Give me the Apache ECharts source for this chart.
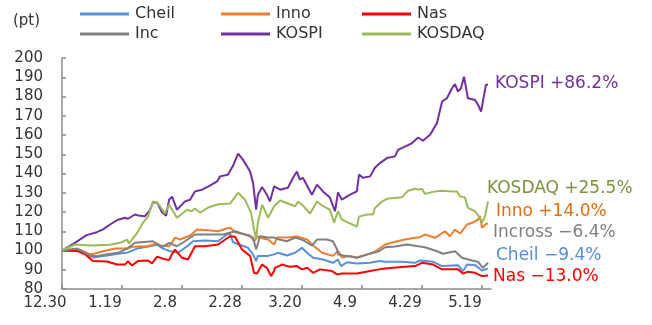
<!DOCTYPE html>
<html>
<head>
<meta charset="utf-8">
<script src="https://cdn.jsdelivr.net/npm/echarts@6/dist/echarts.min.js"></script>
<style>html,body{margin:0;padding:0;background:#fff}#c{width:652px;height:325px}</style>
</head>
<body>
<div id="c"></div>
<script>
// x: days since 12.30, tick every 20 days
const xTickDays = [0, 20, 40, 60, 80, 100, 120, 140];
const xTickLabels = ['12.30', '1.19', '2.8', '2.28', '3.20', '4.9', '4.29', '5.19'];
const seriesNames = ['Cheil', 'Inno', 'Nas', 'Inc', 'KOSPI', 'KOSDAQ'];
const endLabels = ['Cheil \u22129.4%', 'Inno +14.0%', 'Nas \u221213.0%', 'Incross \u22126.4%', 'KOSPI +86.2%', 'KOSDAQ +25.5%'];

const kospiDays = [0,4.3,8.2,11.6,13.7,16,18.7,21,22,24.3,26,27.7,29.3,30.3,31.7,33.3,34.7,35.7,36.7,38.3,41,42.7,44.3,46.7,49.3,51.7,52.7,55.3,57,58.7,60.3,62.7,63.7,64.7,65.3,66.7,68.3,69.3,70.7,72.7,75.3,77,78.3,79.3,80.3,83.3,85,87,89.3,91,92,93.3,96,98.3,99,100.3,102.7,104.3,106,108.3,111,112,114.3,116.7,118.7,120.3,122.7,125,126.7,128.3,130,131,132,133,134,135.3,137.7,138.7,139.7,140.3,141.3,142];
const kospiVals = [100,104,108,109.5,111,113.5,116,117,116.5,118.7,118,117.8,121,125,125,120,118,126.4,128,121.2,125.5,126.4,130.7,131.6,133.7,135.9,138.5,139.4,144,150.3,147.2,141,135,121.2,129,133,129,125.5,133.3,131.6,132.6,137.8,141,136.8,137.8,129,134.2,130.7,127.5,120.4,130.2,126.4,129,130.7,139.4,137.8,138.5,143,145.4,148,148.9,152.3,154,155.8,158.7,157,160.1,166.2,177.4,179.1,184.3,186.4,182.5,184.3,190.3,179.1,178.2,175.6,172.2,171.3,186,186.2];

const kosdaqDays = [0,4.3,9.3,16,20,21.7,22.3,25,27,28.7,30.3,31.7,32.7,34.3,35.7,36,38.3,41.7,43.3,44.3,46,48.7,52,56,57,58.7,61,63,64,64.7,65.3,66.7,68.7,70.7,72.7,77.7,78.7,80,82.7,85,87,89.3,90.7,92,93.3,98.3,99,101.7,103.7,104.3,106.7,108.7,113.3,115.3,117.7,118.7,120,121,124.3,126.7,130,131.7,132.7,134.3,135.3,137.7,139.3,140,141,142];
const kosdaqVals = [100,103.1,102.6,103,104.3,105.7,103.6,109,114.5,117.6,125.5,125,123,119.2,123.8,124.5,117,121.2,120.4,121.8,119.7,122.3,124,124.4,126.4,130,126.4,119.7,111,106,114.5,123.8,117,123,126,123,125.5,123.8,119.2,125.5,123,121.2,114.5,120.4,116,112.4,117.6,118.7,118.7,122.1,125.5,127,127.6,131,132.1,131.6,132.1,129.4,130.7,131,130.7,130.7,128.1,127.6,122.1,120.4,116.9,114.4,117.8,125.5];

const innoDays = [0,6,9.3,11,13.7,17.7,21.7,23.7,28.3,31.7,32.7,35.7,36.7,37.7,39.3,42.7,45,48.7,52,54.3,56,57.7,62.7,64,65.3,67,68.7,70.7,71.7,76,78.3,81.7,83.3,86.7,90.3,92,93.3,96,98.3,101.7,103.7,105.7,107.7,111,114.3,117.7,119.3,121,124.3,127.7,129.3,131,132.7,135,136.7,138.7,139.3,140,141.3,142];
const innoVals = [100,100.5,98,98.4,99.6,101,101,102,102.2,103.6,102.6,102.2,104.3,106.7,105.7,107.8,110.9,110.5,110,111.2,111.9,109.5,107.8,104.8,107.3,106.2,105.7,103.1,106.7,106.9,107.3,105.7,103.1,98.8,97.2,99.8,96.4,97.2,96.4,98,98.8,100.9,103.1,104.5,105.7,106.6,106.9,108.3,106.6,110,107.4,110.9,108.7,113.5,114.4,116.1,118,111.8,113.8,114];

const incDays = [0,5,9.3,11.7,15,18.7,21.7,24.3,30.3,32,33.7,35.7,38.3,41,44.3,48.7,53.7,57.7,62,63.7,64.7,66,68.7,70.7,71.7,75,77.7,80.3,83.3,85,88.3,90.3,91.7,92,93.7,98.3,102.7,105.7,107.7,111,115,118.7,121,125,127,131,133.3,136.7,138.7,140.3,142];
const incVals = [100,101,97.4,97,98,98.8,101,104,104.8,103,102,104,102.2,104.8,108.3,108.3,108.3,110,107.8,106.7,100.5,107.4,106.7,106.7,106,104.8,106.7,105.4,102.6,105.7,105.7,104.8,100.5,98,97.4,96.2,98.4,99.6,101.7,102.1,103.1,102.2,101.7,99.6,98.3,99.6,96.2,94.8,94.1,91,93.6];

const cheilDays = [0,6,10.3,15,19.3,22,25,29.3,31.7,33.7,35.7,38.7,41.7,43.7,47.7,52,55,56,57,62,63.7,64.7,65.3,68.7,70.7,72,75,77.7,80,81.7,83.7,87,90.3,92,93,95,98.3,102.7,105.7,107.7,113.3,117.7,119.3,123.7,126.7,132,133.7,135,137.7,140,142];
const cheilVals = [100,99.7,96.4,97.4,98.4,99,101,102.2,103,101,99.8,98.8,102.2,104.8,105.2,104.8,108.3,108.8,104.3,101.4,98,94.5,97.2,97.2,98,98.8,97.4,98.8,101.4,98.8,96.2,95.3,93.6,95.3,91.9,93.9,93.3,93.6,94.5,94.1,94.1,93.6,94.8,94.1,91.9,92.4,89.3,92.7,92.4,89.6,90.6];

const nasDays = [0,5,7.7,10.3,15,18.3,21,22,23.3,25.3,28.7,30,31.7,33.7,35.7,36.7,37.7,40,42,44.3,47.7,52,56,57.7,60,62.7,64,65,66.7,68.3,69.7,70.7,71,73.3,76,78.3,80,81.7,83.7,86,90,91.7,93.3,98.3,102.7,105.7,107.7,113.3,117.7,120,123.7,126.7,132,133.7,135.3,137.7,140,142];
const nasVals = [100,99.8,98,94.5,94.3,92.7,92.7,94.5,92.2,94.5,94.8,93.3,96.8,95.7,95,98.4,100.5,96.2,95.3,102.2,102.2,103.1,107.4,107.1,100.5,97.2,88.4,88,92.7,91,86.7,89.3,91,92.7,91.5,91.9,90.2,91,88.4,90.2,89.3,87.6,88,88,89.3,90.2,90.7,91.4,91.9,93.6,92.7,90.2,90.2,88,89,88.4,86.7,87];

const pairs = (d, v) => d.map((x, i) => [x, v[i]]);
const seriesData = [pairs(cheilDays, cheilVals), pairs(innoDays, innoVals), pairs(nasDays, nasVals), pairs(incDays, incVals), pairs(kospiDays, kospiVals), pairs(kosdaqDays, kosdaqVals)];

const colors = ['#5591DB', '#ED7D31', '#FF0000', '#808080', '#7030A0', '#9BBB59'];
const labelColors = ['#558ED5', '#E46C0A', '#FF0000', '#7F7F7F', '#7030A0', '#77933C'];
const FONT = '"DejaVu Sans", sans-serif';

const legendPos = [[80, 6], [221, 6], [362, 6], [80, 26], [221, 26], [362, 26]];
const labelPos = [[496, 256], [496, 212], [493, 277], [493, 233], [495, 84], [487, 189]];

const chart = echarts.init(document.getElementById('c'), null, {renderer: 'canvas'});
chart.setOption({
  animation: false,
  backgroundColor: '#fff',
  color: colors,
  grid: {left: 62, right: 161, top: 58, bottom: 36},
  legend: seriesNames.map((n, i) => ({
    data: [n], left: legendPos[i][0], top: legendPos[i][1], icon: 'rect',
    itemWidth: 49, itemHeight: 3, itemGap: 0, padding: 0,
    textStyle: {fontFamily: FONT, fontSize: 16, color: '#333', padding: [0, 0, 0, 1]}
  })),
  xAxis: {
    type: 'value', min: 0, max: 143,
    axisLine: {show: true, lineStyle: {color: '#8c8c8c', width: 1.5}},
    axisTick: {show: true, inside: true, length: 4, customValues: xTickDays, lineStyle: {color: '#8c8c8c', width: 1.5}},
    axisLabel: {customValues: xTickDays, formatter: v => xTickLabels[xTickDays.indexOf(v)] || '',
      fontFamily: FONT, fontSize: 15, color: '#333', margin: 7, padding: [0, 34, 0, 0]},
    splitLine: {show: false}
  },
  yAxis: {
    type: 'value', min: 80, max: 200, interval: 10,
    axisLine: {show: true, lineStyle: {color: '#8c8c8c', width: 1.5}},
    axisTick: {show: true, inside: true, length: 4, lineStyle: {color: '#8c8c8c', width: 1.5}},
    axisLabel: {fontFamily: FONT, fontSize: 15, color: '#333', margin: 19},
    splitLine: {show: false}
  },
  series: seriesNames.map((n, i) => ({
    name: n, type: 'line', data: seriesData[i], showSymbol: false, symbol: 'none',
    lineStyle: {width: 2, color: colors[i]}, itemStyle: {color: colors[i]}
  })),
  graphic: [
    {type: 'text', x: 13, y: 21, style: {text: '(pt)', fill: '#333', font: '15px ' + FONT, verticalAlign: 'middle'}}
  ].concat(endLabels.map((t, i) => ({
    type: 'text', x: labelPos[i][0], y: labelPos[i][1],
    style: {text: t, fill: labelColors[i], font: '17px ' + FONT, verticalAlign: 'middle'}
  })))
});
</script>
</body>
</html>
